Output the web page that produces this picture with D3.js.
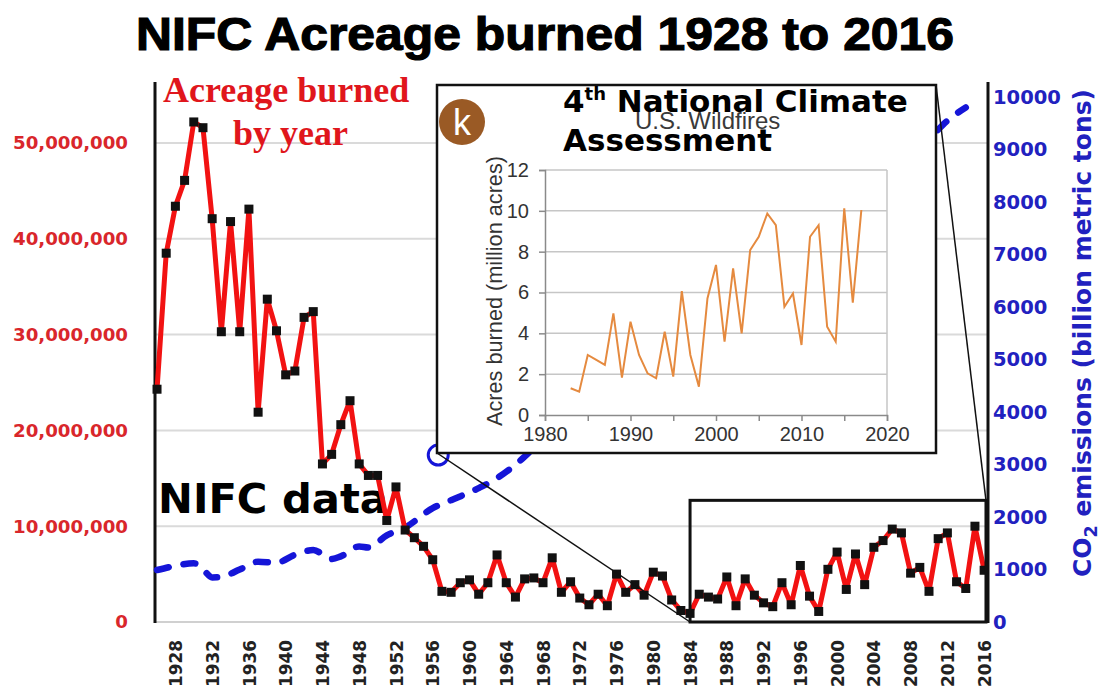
<!DOCTYPE html>
<html>
<head>
<meta charset="utf-8">
<script src="https://cdn.jsdelivr.net/npm/d3@7"></script>
<style>
body{margin:0;background:#fff}
svg{display:block}
</style>
</head>
<body>
<div class="nifc-chart"></div>
<script>
// NIFC acreage burned per year, 1926..2016 (acres)
const fireYears = d3.range(1926, 2017);
const fireAcres = [
  24.3, 38.5, 43.4, 46.1, 52.2, 51.6, 42.1, 30.3, 41.8, 30.3,   // 1926-1935
  43.1, 21.9, 33.7, 30.4, 25.8, 26.2, 31.8, 32.4, 16.5, 17.5,   // 1936-1945
  20.6, 23.1, 16.5, 15.3, 15.3, 10.6, 14.1, 9.6, 8.8, 7.9,      // 1946-1955
  6.5, 3.2, 3.1, 4.1, 4.4, 2.9, 4.1, 7.0, 4.1, 2.6,             // 1956-1965
  4.5, 4.6, 4.1, 6.7, 3.1, 4.2, 2.5, 1.8, 2.9, 1.7,             // 1966-1975
  5.0, 3.1, 3.9, 2.8, 5.2, 4.8, 2.3, 1.2, 0.9, 2.9,             // 1976-1985
  2.6, 2.4, 4.7, 1.7, 4.5, 2.8, 2.0, 1.6, 4.1, 1.8,             // 1986-1995
  5.9, 2.7, 1.1, 5.5, 7.3, 3.4, 7.1, 3.9, 7.8, 8.5,             // 1996-2005
  9.7, 9.3, 5.1, 5.7, 3.2, 8.7, 9.3, 4.2, 3.5, 10.0,            // 2006-2015
  5.4                                                           // 2016
].map(v => v * 1e6);

// CO2 emissions curve (billion metric tons)
const co2Years  = [1926, 1928, 1930, 1931, 1932, 1933, 1935, 1937, 1939, 1941, 1943, 1945, 1946, 1948, 1949, 1951, 1953, 1956, 1958, 1961, 1963, 1966, 1970, 1975, 1980, 1985, 1990, 1995, 2000, 2005, 2010, 2012, 2014];
const co2Values = [990, 1070, 1120, 1000, 850, 860, 1000, 1150, 1130, 1280, 1370, 1200, 1250, 1440, 1420, 1650, 1800, 2170, 2320, 2550, 2740, 3150, 3900, 4500, 5300, 5600, 6300, 6700, 7400, 8500, 9200, 9550, 9800];

// inset: 4th National Climate Assessment, U.S. wildfires (million acres)
const nacaYears = d3.range(1983, 2018);
const nacaAcres = [
  1.31, 1.14, 2.94, 2.70, 2.45, 4.98, 1.83, 4.57, 2.94, 2.04,   // 1983-1992
  1.80, 4.08, 1.88, 6.07, 2.94, 1.39, 5.71, 7.35, 3.59, 7.18,   // 1993-2002
  4.00, 8.08, 8.73, 9.87, 9.30, 5.30, 5.95, 3.43, 8.73, 9.30,   // 2003-2012
  4.32, 3.59, 10.12, 5.50, 10.04                                // 2013-2017
];

// tick labels
const acreTicks = [0, 10e6, 20e6, 30e6, 40e6, 50e6];
const co2Ticks = [0, 1000, 2000, 3000, 4000, 5000, 6000, 7000, 8000, 9000, 10000];
const yearTicks = d3.range(1928, 2017, 4);
const insetYTicks = [0, 2, 4, 6, 8, 10, 12];

// zoomed region on the main chart and the annotation circle
const zoomYears = [1984, 2016.2];
const zoomAcres = [0, 12.7e6];
const circleMark = {year: 1956.6, co2: 3180};

const width = 1100, height = 692;
const svg = d3.select('.nifc-chart').append('svg')
  .attr('width', width)
  .attr('height', height);

// scale a group of texts so that the widest one spans `target` px
const fitWidth = function(sel, target) {
  let w = 0, fs = 0;
  sel.each(function() {
    const len = this.getComputedTextLength();
    if (len > w) { w = len; fs = parseFloat(getComputedStyle(this).fontSize); }
  });
  if (w > 0) sel.style('font-size', (fs * target / w).toFixed(2) + 'px');
};

const x = d3.scaleLinear().domain([1925.78, 2016.42]).range([155, 988]);
const yAcres = d3.scaleLinear().domain([0, 56.37e6]).range([622, 82]);
const yCo2 = d3.scaleLinear().domain([0, 10286]).range([622, 82]);

// gridlines
svg.append('g').selectAll('line')
  .data(acreTicks)
  .enter().append('line')
  .attr('x1', 155).attr('x2', 988)
  .attr('y1', d => yAcres(d)).attr('y2', d => yAcres(d))
  .attr('stroke', '#dadada')
  .attr('stroke-width', 2);

// title + labels
svg.append('text')
  .attr('x', 136).attr('y', 50)
  .attr('textLength', 818)
  .attr('lengthAdjust', 'spacingAndGlyphs')
  .style('font-family', 'Liberation Sans, Arial, sans-serif')
  .style('font-weight', 'bold')
  .style('font-size', '46px')
  .attr('stroke', '#000').attr('stroke-width', 1.2)
  .text('NIFC Acreage burned 1928 to 2016');

const redLabel = svg.append('g')
  .style('font-family', 'Liberation Serif, Times New Roman, serif')
  .style('font-weight', 'bold')
  .style('font-size', '36px')
  .attr('fill', '#e0161c');
redLabel.append('text').attr('x', 163).attr('y', 102).text('Acreage burned');
redLabel.append('text').attr('x', 233).attr('y', 145).text('by year');

const nifcLabel = svg.append('text')
  .attr('x', 158).attr('y', 513)
  .style('font-family', 'DejaVu Sans, sans-serif')
  .style('font-weight', 'bold')
  .style('font-size', '42px')
  .text('NIFC data');
fitWidth(nifcLabel, 230);

// left axis
const leftAxis = svg.append('g')
  .attr('transform', 'translate(155,0)')
  .call(d3.axisLeft(yAcres).tickValues(acreTicks).tickSize(0).tickPadding(27).tickFormat(d3.format(',')));
leftAxis.select('.domain').remove();
leftAxis.selectAll('text')
  .style('font-family', 'DejaVu Sans, sans-serif')
  .style('font-weight', 'bold')
  .style('font-size', '18px')
  .attr('fill', '#d9262b');
fitWidth(leftAxis.selectAll('text'), 115);

// right axis
const rightAxis = svg.append('g')
  .attr('transform', 'translate(988,0)')
  .call(d3.axisRight(yCo2).tickValues(co2Ticks).tickSize(0).tickPadding(5).tickFormat(d3.format('d')));
rightAxis.select('.domain').remove();
rightAxis.selectAll('text')
  .style('font-family', 'DejaVu Sans, sans-serif')
  .style('font-weight', 'bold')
  .style('font-size', '20px')
  .attr('fill', '#2121bf');
fitWidth(rightAxis.selectAll('text'), 68);

const co2Title = svg.append('text')
  .attr('transform', 'translate(1091,333) rotate(-90)')
  .attr('text-anchor', 'middle')
  .style('font-family', 'DejaVu Sans, sans-serif')
  .style('font-weight', 'bold')
  .style('font-size', '21px')
  .attr('fill', '#2121bf');
co2Title.append('tspan').text('CO');
co2Title.append('tspan').attr('dy', 6).style('font-size', '0.7em').text('2');
co2Title.append('tspan').attr('dy', -6).text(' emissions (billion metric tons)');
fitWidth(co2Title, 488);

// bottom axis
const bottomAxis = svg.append('g')
  .attr('transform', 'translate(0,622)')
  .call(d3.axisBottom(x).tickValues(yearTicks).tickSize(0).tickFormat(d3.format('d')));
bottomAxis.select('.domain').remove();
bottomAxis.selectAll('text')
  .attr('transform', 'rotate(-90)')
  .attr('text-anchor', 'end')
  .attr('x', -18).attr('y', 0).attr('dy', '0.36em')
  .style('font-family', 'DejaVu Sans, sans-serif')
  .style('font-weight', 'bold')
  .style('font-size', '17px')
  .attr('fill', '#222');
fitWidth(bottomAxis.selectAll('text'), 47);

// axis lines
svg.append('line').attr('x1', 155).attr('x2', 988).attr('y1', 622).attr('y2', 622)
  .attr('stroke', '#d0d0d0').attr('stroke-width', 2);
svg.append('line').attr('x1', 155).attr('x2', 155).attr('y1', 82).attr('y2', 623)
  .attr('stroke', '#111').attr('stroke-width', 3);
svg.append('line').attr('x1', 988).attr('x2', 988).attr('y1', 82).attr('y2', 623)
  .attr('stroke', '#111').attr('stroke-width', 3);

// CO2 dashed line
const co2Line = d3.line()
  .x((d, i) => x(co2Years[i]))
  .y(d => yCo2(d))
  .curve(d3.curveMonotoneX);
svg.append('path')
  .datum(co2Values)
  .attr('d', co2Line)
  .attr('fill', 'none')
  .attr('stroke', '#1515d8')
  .attr('stroke-width', 6.5)
  .attr('stroke-linecap', 'round')
  .attr('stroke-dasharray', '12,15');

// acreage line with square markers
const acreLine = d3.line()
  .x((d, i) => x(fireYears[i]))
  .y(d => yAcres(d));
svg.append('path')
  .datum(fireAcres)
  .attr('d', acreLine)
  .attr('fill', 'none')
  .attr('stroke', '#f21212')
  .attr('stroke-width', 5)
  .attr('stroke-linejoin', 'round');
svg.append('g').selectAll('rect')
  .data(fireAcres)
  .enter().append('rect')
  .attr('x', (d, i) => x(fireYears[i]) - 4.5)
  .attr('y', d => yAcres(d) - 4.5)
  .attr('width', 9).attr('height', 9)
  .attr('fill', '#111');

// annotation circle (partly covered by the inset)
svg.append('circle')
  .attr('cx', x(circleMark.year)).attr('cy', yCo2(circleMark.co2))
  .attr('r', 10)
  .attr('fill', 'none')
  .attr('stroke', '#1515d8')
  .attr('stroke-width', 3);

// zoom box and connector lines
svg.append('rect')
  .attr('x', x(zoomYears[0])).attr('y', yAcres(zoomAcres[1]))
  .attr('width', x(zoomYears[1]) - x(zoomYears[0]))
  .attr('height', yAcres(zoomAcres[0]) - yAcres(zoomAcres[1]))
  .attr('fill', 'none')
  .attr('stroke', '#111')
  .attr('stroke-width', 3);

const inset = {x0: 437, y0: 85, x1: 936, y1: 453};
svg.append('line')
  .attr('x1', inset.x0).attr('y1', inset.y1)
  .attr('x2', x(zoomYears[0])).attr('y2', yAcres(zoomAcres[0]))
  .attr('stroke', '#111').attr('stroke-width', 1.5);
svg.append('line')
  .attr('x1', inset.x1).attr('y1', inset.y0)
  .attr('x2', x(zoomYears[1])).attr('y2', yAcres(zoomAcres[1]))
  .attr('stroke', '#111').attr('stroke-width', 1.5);

// inset panel
svg.append('rect')
  .attr('x', inset.x0).attr('y', inset.y0)
  .attr('width', inset.x1 - inset.x0).attr('height', inset.y1 - inset.y0)
  .attr('fill', '#fff')
  .attr('stroke', '#111')
  .attr('stroke-width', 2.5);

const xIn = d3.scaleLinear().domain([1980, 2020]).range([545, 887]);
const yIn = d3.scaleLinear().domain([0, 12]).range([415, 170]);

svg.append('g').selectAll('line')
  .data(insetYTicks.slice(1))
  .enter().append('line')
  .attr('x1', xIn(1980)).attr('x2', xIn(2020))
  .attr('y1', d => yIn(d)).attr('y2', d => yIn(d))
  .attr('stroke', '#c6c6c6').attr('stroke-width', 1.5);
svg.append('line')
  .attr('x1', xIn(2020)).attr('x2', xIn(2020)).attr('y1', yIn(12)).attr('y2', yIn(0))
  .attr('stroke', '#c6c6c6').attr('stroke-width', 1.5);

const inY = svg.append('g')
  .attr('transform', `translate(${xIn(1980)},0)`)
  .call(d3.axisLeft(yIn).tickValues(insetYTicks).tickSize(6).tickPadding(10));
const inX = svg.append('g')
  .attr('transform', `translate(0,${yIn(0)})`)
  .call(d3.axisBottom(xIn).tickValues(d3.range(1980, 2021, 5)).tickSize(6).tickPadding(6)
    .tickFormat(d => d % 10 === 0 ? d : ''));
[inY, inX].forEach(g => {
  g.select('.domain').attr('stroke', '#8a8a8a').attr('stroke-width', 1.5);
  g.selectAll('.tick line').attr('stroke', '#8a8a8a').attr('stroke-width', 1.5);
  g.selectAll('text')
    .style('font-family', 'Liberation Sans, Arial, sans-serif')
    .style('font-size', '20px')
    .attr('fill', '#333');
});

const inTitle = svg.append('text')
  .attr('transform', 'translate(502,291) rotate(-90)')
  .attr('text-anchor', 'middle')
  .style('font-family', 'Liberation Sans, Arial, sans-serif')
  .style('font-size', '21px')
  .attr('fill', '#333')
  .text('Acres burned (million acres)');
fitWidth(inTitle, 270);

const nacaLine = d3.line()
  .x((d, i) => xIn(nacaYears[i]))
  .y(d => yIn(d));
svg.append('path')
  .datum(nacaAcres)
  .attr('d', nacaLine)
  .attr('fill', 'none')
  .attr('stroke', '#e58a3f')
  .attr('stroke-width', 2);

// "k" badge
svg.append('circle')
  .attr('cx', 462).attr('cy', 122).attr('r', 23)
  .attr('fill', '#9a5a25');
svg.append('text')
  .attr('x', 462).attr('y', 135)
  .attr('text-anchor', 'middle')
  .style('font-family', 'Liberation Sans, Arial, sans-serif')
  .style('font-size', '36px')
  .attr('fill', '#fff')
  .text('k');

// inset headings
const nca = svg.append('g')
  .style('font-family', 'DejaVu Sans, sans-serif')
  .style('font-weight', 'bold')
  .style('font-size', '31px')
  .attr('fill', '#000');
const line1 = nca.append('text').attr('x', 563).attr('y', 112);
line1.append('tspan').text('4');
line1.append('tspan').attr('dy', -12).style('font-size', '18px').text('th');
line1.append('tspan').attr('dy', 12).text(' National Climate');
nca.append('text').attr('x', 563).attr('y', 151).text('Assessment');

svg.append('text')
  .attr('x', 635).attr('y', 129)
  .style('font-family', 'Liberation Sans, Arial, sans-serif')
  .style('font-size', '24px')
  .attr('fill', '#3a3a3a')
  .text('U.S. Wildfires');
</script>
</body>
</html>
